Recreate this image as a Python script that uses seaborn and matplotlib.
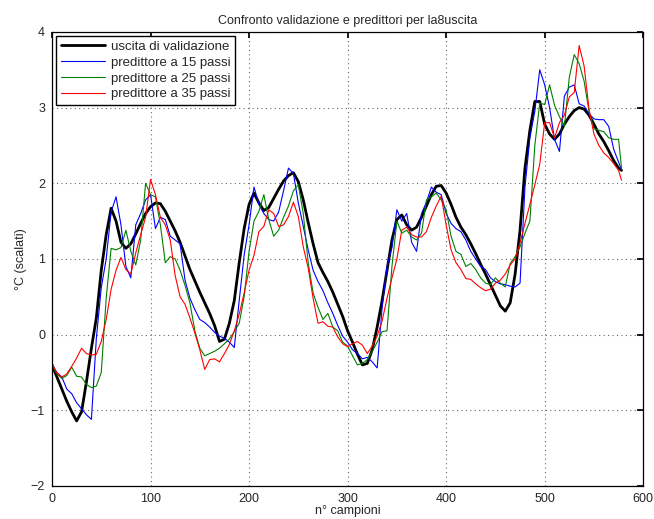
import numpy as np
import pandas as pd
import matplotlib
matplotlib.use("Agg")
import matplotlib.pyplot as plt
import seaborn as sns

# campioni ogni 5 passi + ultimo campione
campioni = np.r_[np.arange(0, 580, 5), 578]

validazione = [
    -0.40, -0.56, -0.72, -0.88, -1.02, -1.14, -1.02, -0.62, -0.18, 0.22,
    0.85, 1.32, 1.67, 1.50, 1.22, 1.14, 1.20, 1.33, 1.47, 1.60,
    1.69, 1.74, 1.73, 1.63, 1.50, 1.37, 1.22, 1.04, 0.86, 0.71,
    0.56, 0.42, 0.28, 0.12, -0.09, -0.06, 0.15, 0.45, 0.95, 1.40,
    1.72, 1.87, 1.74, 1.64, 1.68, 1.80, 1.92, 2.03, 2.10, 2.14,
    2.02, 1.78, 1.48, 1.20, 0.95, 0.82, 0.70, 0.56, 0.40, 0.24,
    0.05, -0.10, -0.26, -0.40, -0.38, -0.20, 0.10, 0.45, 0.85, 1.25,
    1.52, 1.58, 1.45, 1.38, 1.42, 1.55, 1.70, 1.85, 1.96, 1.97,
    1.87, 1.72, 1.55, 1.42, 1.32, 1.20, 1.07, 0.93, 0.80, 0.66,
    0.52, 0.38, 0.31, 0.42, 0.80, 1.38, 2.20, 2.70, 3.08, 3.08,
    2.78, 2.65, 2.58, 2.65, 2.78, 2.88, 2.96, 3.00, 2.98, 2.90,
    2.78, 2.65, 2.55, 2.43, 2.30, 2.20,
    2.17,
]

pred15 = [
    -0.40, -0.50, -0.56, -0.72, -0.78, -0.90, -0.98, -1.06, -1.12, -0.05,
    0.62, 1.00, 1.62, 1.82, 1.45, 0.90, 0.75, 1.45, 1.60, 1.78,
    1.85, 1.40, 1.55, 1.52, 1.30, 1.25, 1.20, 0.72, 0.48, 0.33,
    0.20, 0.16, 0.10, 0.03, -0.02, -0.05, -0.10, -0.17, 0.45, 1.05,
    1.45, 1.95, 1.72, 1.60, 1.52, 1.50, 1.62, 1.90, 2.20, 2.13,
    1.74, 1.43, 1.12, 0.85, 0.70, 0.58, 0.42, 0.28, 0.12, -0.02,
    -0.10, -0.20, -0.25, -0.32, -0.30, -0.36, -0.44, 0.35, 0.90, 1.15,
    1.65, 1.50, 1.60, 1.22, 1.10, 1.60, 1.75, 1.95, 1.88, 1.85,
    1.60, 1.47, 1.40, 1.36, 1.25, 1.10, 1.00, 0.90, 0.86, 0.75,
    0.70, 0.67, 0.66, 0.64, 0.63, 0.68, 1.95, 2.60, 2.95, 3.50,
    3.30, 3.00, 2.58, 2.42, 3.15, 3.27, 3.30, 3.05, 3.02, 2.92,
    2.85, 2.84, 2.84, 2.75, 2.45, 2.28,
    2.18,
]

pred25 = [
    -0.40, -0.52, -0.58, -0.54, -0.43, -0.55, -0.56, -0.66, -0.70, -0.68,
    -0.50, 0.48, 1.14, 1.12, 1.15, 1.38, 1.10, 0.92, 1.25, 2.00,
    1.85, 1.82, 1.45, 0.95, 1.03, 1.00, 0.85, 0.65, 0.42, 0.05,
    -0.18, -0.28, -0.25, -0.22, -0.18, -0.12, -0.06, 0.04, 0.15, 0.50,
    1.10, 1.50, 1.63, 1.85, 1.52, 1.30, 1.38, 1.55, 1.70, 1.90,
    1.98, 1.60, 0.95, 0.55, 0.36, 0.20, 0.28, 0.10, 0.05, -0.10,
    -0.15, -0.28, -0.40, -0.38, -0.33, -0.22, -0.10, 0.04, 0.05, 0.90,
    1.50, 1.34, 1.38, 1.29, 1.25, 1.34, 1.78, 1.82, 1.87, 1.78,
    1.65, 1.30, 1.10, 1.06, 0.90, 0.94, 0.86, 0.75, 0.68, 0.66,
    0.75, 0.68, 0.63, 0.94, 1.03, 1.16, 1.34, 1.50, 2.50, 3.06,
    3.04, 3.30, 3.03, 2.88, 2.75, 3.40, 3.70, 3.58, 3.35, 2.95,
    2.72, 2.70, 2.68, 2.60, 2.58, 2.58,
    2.20,
]

pred35 = [
    -0.38, -0.51, -0.56, -0.52, -0.42, -0.31, -0.18, -0.25, -0.27, -0.26,
    -0.09, 0.20, 0.60, 0.85, 1.02, 0.86, 0.80, 1.08, 1.32, 1.55,
    2.05, 1.85, 1.55, 1.45, 1.25, 0.78, 0.50, 0.40, 0.22, 0.02,
    -0.20, -0.46, -0.33, -0.32, -0.36, -0.25, -0.13, 0.05, 0.27, 0.55,
    0.85, 1.05, 1.36, 1.43, 1.65, 1.60, 1.43, 1.45, 1.56, 1.75,
    1.56, 1.16, 0.88, 0.48, 0.15, 0.17, 0.11, 0.10, -0.03, -0.12,
    -0.16, -0.12, -0.09, -0.14, -0.25, -0.15, -0.02, 0.18, 0.48, 0.75,
    1.00, 1.38, 1.42, 1.32, 1.29, 1.29, 1.36, 1.55, 1.70, 1.83,
    1.45, 1.12, 0.95, 0.86, 0.74, 0.73, 0.67, 0.62, 0.58, 0.60,
    0.68, 0.72, 0.80, 0.92, 1.00, 1.21, 1.47, 1.72, 1.98, 2.25,
    2.80, 2.80, 2.60, 2.80, 2.90, 3.14, 3.20, 3.82, 3.55, 2.98,
    2.65, 2.50, 2.40, 2.34, 2.26, 2.17,
    2.04,
]

serie = [
    ("uscita di validazione", validazione, "black", 2.0),
    ("predittore a 15 passi", pred15, "#0000ff", 0.8),
    ("predittore a 25 passi", pred25, "#008000", 0.8),
    ("predittore a 35 passi", pred35, "#ff0000", 0.8),
]

sns.set_theme(style="white")
plt.rcParams["font.family"] = ["Liberation Sans", "DejaVu Sans"]

fig = plt.figure(figsize=(6.54, 5.19), dpi=100)
ax = fig.add_axes([0.0795, 0.0636, 0.904, 0.875])

for nome, valori, colore, lw in serie:
    sns.lineplot(x=campioni, y=valori, ax=ax, color=colore, linewidth=lw,
                 label=nome, estimator=None, sort=False)

ax.set_xlim(0, 600)
ax.set_ylim(-2, 4)
ax.set_xticks(range(0, 601, 100))
ax.set_yticks(range(-2, 5))
ax.grid(True, linestyle=(0, (1, 3)), color="#666666", linewidth=0.8)
ax.tick_params(direction="in", top=True, right=True, labelsize=9, length=4,
               color="black", pad=5)
for s in ax.spines.values():
    s.set_color("black")
    s.set_linewidth(0.9)

ax.set_title("Confronto validazione e predittori per la8uscita", fontsize=9, pad=6)
ax.set_xlabel("n° campioni", fontsize=9, labelpad=0)
ax.set_ylabel("°C (scalati)", fontsize=9, labelpad=3)

leg = ax.legend(loc="upper left", fontsize=9.5, frameon=True, fancybox=False,
                edgecolor="black", handlelength=3.4, handletextpad=0.4,
                borderpad=0.35, labelspacing=0.28, borderaxespad=0.3)
leg.get_frame().set_linewidth(1.0)
leg.get_frame().set_alpha(1)

fig.savefig("out.png", dpi=100)
